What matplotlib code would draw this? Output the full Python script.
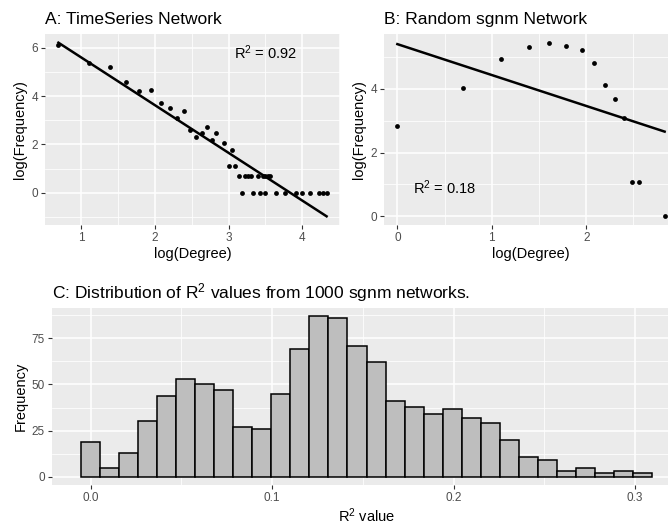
import numpy as np
import matplotlib
matplotlib.use("Agg")
import matplotlib.pyplot as plt
from matplotlib.ticker import MultipleLocator

plt.rcParams['font.family'] = ['Liberation Sans', 'DejaVu Sans']
plt.rcParams['mathtext.fontset'] = 'custom'
plt.rcParams['mathtext.rm'] = 'Liberation Sans'
plt.rcParams['mathtext.it'] = 'Liberation Sans:italic'

# A: TimeSeries network, log(degree) vs log(frequency)
deg_a = [0.69, 1.10, 1.39, 1.61, 1.79, 1.95, 2.08, 2.20, 2.30, 2.40, 2.48, 2.56,
         2.64, 2.71, 2.77, 2.83, 2.94, 3.04, 3.00, 3.09,
         3.14, 3.22, 3.26, 3.30, 3.40, 3.47, 3.50, 3.53, 3.56,
         3.18, 3.33, 3.43, 3.50, 3.64, 3.76, 3.91, 3.99, 4.11, 4.23, 4.28, 4.33]
freq_a = [6.10, 5.37, 5.20, 4.59, 4.23, 4.26, 3.71, 3.52, 3.08, 3.37, 2.58, 2.31,
          2.48, 2.71, 2.19, 2.48, 2.08, 1.79, 1.10, 1.10,
          0.69, 0.69, 0.69, 0.69, 0.69, 0.69, 0.69, 0.69, 0.69,
          0, 0, 0, 0, 0, 0, 0, 0, 0, 0, 0, 0]

# B: random sgnm network
deg_b = [0.0, 0.69, 1.10, 1.39, 1.61, 1.79, 1.95, 2.08, 2.20, 2.30, 2.40, 2.48, 2.56, 2.83]
freq_b = [2.83, 4.02, 4.94, 5.33, 5.45, 5.35, 5.23, 4.80, 4.13, 3.68, 3.10, 1.09, 1.09, 0.0]

# C: histogram of R^2 from 1000 sgnm networks (30 bins)
bin_start = -0.0055
bin_width = 0.0105
counts_c = [19, 5, 13, 30, 44, 53, 50, 47, 27, 26,
            45, 69, 87, 86, 71, 62, 41, 38, 34, 37,
            32, 29, 20, 11, 9, 3, 5, 2, 3, 2]

W, H = 668, 524
fig = plt.figure(figsize=(W / 100, H / 100), dpi=100)

def px_axes(left, top, right, bottom):
    return fig.add_axes([left / W, 1 - bottom / H, (right - left) / W, (bottom - top) / H])

def gg_style(ax):
    ax.set_facecolor('#EBEBEB')
    for s in ax.spines.values():
        s.set_visible(False)
    ax.grid(which='major', color='white', lw=1.1)
    ax.grid(which='minor', color='white', lw=0.55)
    ax.set_axisbelow(True)
    ax.tick_params(which='major', length=3, width=0.8, color='#333333',
                   labelcolor='#4D4D4D', labelsize=8.5, pad=2)
    ax.tick_params(which='minor', length=0)

def fit_line(ax, x, y):
    x = np.asarray(x)
    k, b = np.polyfit(x, y, 1)
    xs = np.array([x.min(), x.max()])
    ax.plot(xs, k * xs + b, color='black', lw=1.8, zorder=3)

# panel A
axA = px_axes(45, 34, 340, 225)
gg_style(axA)
axA.scatter(deg_a, freq_a, s=12, color='black', zorder=4, linewidths=0)
fit_line(axA, deg_a, freq_a)
axA.margins(0.05)
axA.xaxis.set_major_locator(MultipleLocator(1))
axA.xaxis.set_minor_locator(MultipleLocator(0.5))
axA.yaxis.set_major_locator(MultipleLocator(2))
axA.yaxis.set_minor_locator(MultipleLocator(1))
axA.text(3.5, 5.78, r'$\mathrm{R}^2$ = 0.92', ha='center', va='center', fontsize=10.5)
axA.set_xlabel('log(Degree)', fontsize=10.5, labelpad=2)
axA.set_ylabel('log(Frequency)', fontsize=10.5, labelpad=3)
axA.set_title('A: TimeSeries Network', loc='left', fontsize=12.5, pad=7)

# panel B (runs past the right edge, as in the original crop)
axB = px_axes(384, 34, 678, 225)
gg_style(axB)
axB.scatter(deg_b, freq_b, s=12, color='black', zorder=4, linewidths=0, clip_on=False)
fit_line(axB, deg_b, freq_b)
axB.margins(0.05)
axB.xaxis.set_major_locator(MultipleLocator(1))
axB.xaxis.set_minor_locator(MultipleLocator(0.5))
axB.yaxis.set_major_locator(MultipleLocator(2))
axB.yaxis.set_minor_locator(MultipleLocator(1))
axB.text(0.5, 0.9, r'$\mathrm{R}^2$ = 0.18', ha='center', va='center', fontsize=10.5)
axB.set_xlabel('log(Degree)', fontsize=10.5, labelpad=2)
axB.set_ylabel('log(Frequency)', fontsize=10.5, labelpad=3)
axB.set_title('B: Random sgnm Network', loc='left', fontsize=12.5, pad=7)

# panel C
axC = px_axes(52, 308, 681, 485)
gg_style(axC)
edges = bin_start + bin_width * np.arange(len(counts_c))
axC.bar(edges, counts_c, width=bin_width, align='edge', color='#BEBEBE',
        edgecolor='black', linewidth=1.1, zorder=3)
axC.use_sticky_edges = False
axC.margins(0.05)
axC.xaxis.set_major_locator(MultipleLocator(0.1))
axC.xaxis.set_minor_locator(MultipleLocator(0.05))
axC.yaxis.set_major_locator(MultipleLocator(25))
axC.yaxis.set_minor_locator(MultipleLocator(12.5))
axC.xaxis.set_major_formatter(matplotlib.ticker.FormatStrFormatter('%.1f'))
axC.set_xlabel(r'$\mathrm{R}^2$ value', fontsize=10.5, labelpad=2)
axC.set_ylabel('Frequency', fontsize=10.5, labelpad=3)
axC.set_title(r'C: Distribution of $\mathrm{R}^2$ values from 1000 sgnm networks.',
              loc='left', fontsize=12.5, pad=7)

fig.savefig('out.png', dpi=100)
